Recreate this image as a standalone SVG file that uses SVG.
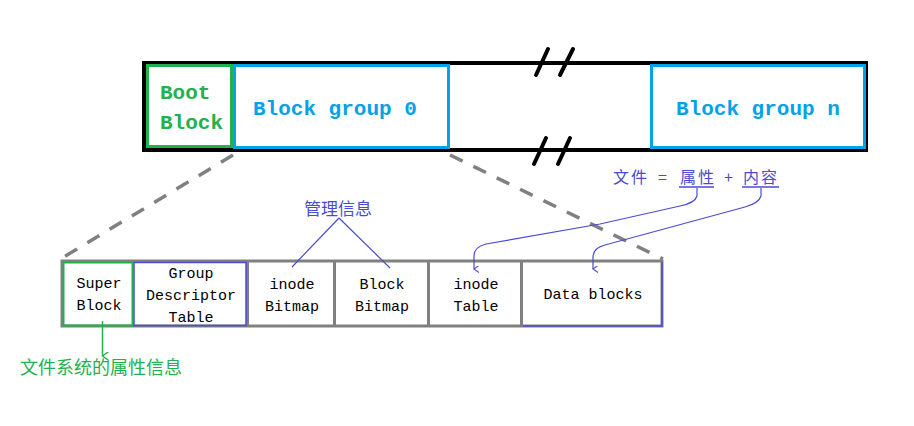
<svg xmlns="http://www.w3.org/2000/svg" width="914" height="426" viewBox="0 0 914 426">
<defs>
<style>
.mono{font-family:"Liberation Mono","DejaVu Sans Mono",monospace}
.big{font-size:21px;font-weight:bold}
.cell{font-size:15px;fill:#000}
.cjk{font-family:"Noto Sans CJK SC","Noto Sans",sans-serif}
.ann{fill:#4b4bd2}
.thin{fill:none;stroke:#4b4bd2;stroke-width:1.2}
.dash{fill:none;stroke:#808080;stroke-width:3.5;stroke-dasharray:14 12}
.brk{stroke:#000;stroke-width:4;stroke-linecap:round}
</style>
<marker id="vb" viewBox="0 0 10 10" refX="5" refY="9" markerWidth="7" markerHeight="7" orient="auto" markerUnits="userSpaceOnUse">
<path d="M0,2 L5,9 L10,2" fill="none" stroke="#4b4bd2" stroke-width="1.5"/>
</marker>
<marker id="vg" viewBox="0 0 10 10" refX="5" refY="9" markerWidth="9" markerHeight="9" orient="auto" markerUnits="userSpaceOnUse">
<path d="M0,2 L5,9 L10,2" fill="none" stroke="#22b14c" stroke-width="1.5"/>
</marker>
</defs>
<rect width="914" height="426" fill="#fff"/>

<g id="disk">
<rect x="144" y="63" width="722" height="87" fill="#fff" stroke="#000" stroke-width="4"/>
</g>
<g id="boot-block">
<rect x="147.5" y="65.5" width="84" height="81" fill="#fff" stroke="#22b14c" stroke-width="3"/>
<text class="mono big" fill="#22b14c" x="160" y="99">Boot</text>
<text class="mono big" fill="#22b14c" x="160" y="129">Block</text>
</g>
<g id="block-group-0">
<rect x="234.5" y="65.5" width="214" height="82" fill="#fff" stroke="#00a2e8" stroke-width="3"/>
<text class="mono big" fill="#00a2e8" x="253" y="115">Block group 0</text>
</g>
<g id="block-group-n">
<rect x="651.5" y="65.5" width="213" height="82" fill="#fff" stroke="#00a2e8" stroke-width="3"/>
<text class="mono big" fill="#00a2e8" x="676" y="115">Block group n</text>
</g>
<g id="breaks">
<line class="brk" x1="548" y1="49" x2="536" y2="75"/>
<line class="brk" x1="573" y1="49" x2="560" y2="75"/>
<line class="brk" x1="546" y1="138" x2="534" y2="164"/>
<line class="brk" x1="570" y1="138" x2="558" y2="164"/>
</g>

<g id="group-row">
<rect x="62" y="261" width="600" height="65" fill="#fff" stroke="#808080" stroke-width="3"/>
<line x1="247.5" y1="261" x2="247.5" y2="326" stroke="#808080" stroke-width="3"/>
<line x1="334.5" y1="261" x2="334.5" y2="326" stroke="#808080" stroke-width="3"/>
<line x1="428.5" y1="261" x2="428.5" y2="326" stroke="#808080" stroke-width="3"/>
<line x1="521.5" y1="261" x2="521.5" y2="326" stroke="#808080" stroke-width="3"/>
</g>
<g id="super-block">
<rect x="63.5" y="262.5" width="69" height="63" fill="none" stroke="#22b14c" stroke-width="2"/>
<text class="mono cell" x="99" y="288" text-anchor="middle">Super</text>
<text class="mono cell" x="99" y="310" text-anchor="middle">Block</text>
</g>
<g id="group-descriptor-table">
<rect x="134" y="262.5" width="112" height="63" fill="none" stroke="#4b4bd2" stroke-width="1.5"/>
<text class="mono cell" x="191" y="278" text-anchor="middle">Group</text>
<text class="mono cell" x="191" y="300" text-anchor="middle">Descriptor</text>
<text class="mono cell" x="191" y="322" text-anchor="middle">Table</text>
</g>
<g id="inode-bitmap">
<text class="mono cell" x="292" y="289" text-anchor="middle">inode</text>
<text class="mono cell" x="292" y="311" text-anchor="middle">Bitmap</text>
</g>
<g id="block-bitmap">
<text class="mono cell" x="382" y="289" text-anchor="middle">Block</text>
<text class="mono cell" x="382" y="311" text-anchor="middle">Bitmap</text>
</g>
<g id="inode-table">
<text class="mono cell" x="476" y="289" text-anchor="middle">inode</text>
<text class="mono cell" x="476" y="311" text-anchor="middle">Table</text>
</g>
<g id="data-blocks">
<path d="M523,326 L662,326 L662,262" fill="none" stroke="#4b4bd2" stroke-width="1.5"/>
<text class="mono cell" x="593" y="299" text-anchor="middle">Data blocks</text>
</g>

<g id="label-mgmt">
<text class="cjk ann" x="338" y="215" font-size="17" text-anchor="middle">管理信息</text>
</g>
<g id="label-file">
<text class="cjk ann" x="613" y="183" font-size="16" letter-spacing="2">文件</text>
<text class="cjk ann" x="658" y="183" font-size="16">=</text>
<text class="cjk ann" x="680" y="183" font-size="16" letter-spacing="2">属性</text>
<text class="cjk ann" x="724" y="183" font-size="16">+</text>
<text class="cjk ann" x="743" y="183" font-size="16" letter-spacing="2">内容</text>
<line x1="679" y1="187" x2="714" y2="187" stroke="#4b4bd2" stroke-width="1.5"/>
<line x1="742" y1="187" x2="779" y2="187" stroke="#4b4bd2" stroke-width="1.5"/>
</g>
<g id="label-fs">
<text class="cjk" fill="#22b14c" x="20" y="374" font-size="18">文件系统的属性信息</text>
</g>

<g id="connectors">
<line class="dash" x1="233" y1="155" x2="62" y2="258"/>
<line class="dash" x1="450" y1="155" x2="663" y2="259"/>
<line class="thin" x1="339" y1="218" x2="292" y2="267"/>
<line class="thin" x1="339" y1="218" x2="390" y2="268"/>
<path class="thin" d="M697,188 L697,196 Q695,203 680,206 L600,224 L486,244 Q474,247 474,256 L474,269" marker-end="url(#vb)"/>
<path class="thin" d="M761,188 L761,196 Q759,203 745,207 L605,245 Q593,248 593,257 L593,269" marker-end="url(#vb)"/>
<line x1="102.5" y1="321" x2="102.5" y2="356" stroke="#22b14c" stroke-width="1.5" marker-end="url(#vg)"/>
</g>
</svg>
